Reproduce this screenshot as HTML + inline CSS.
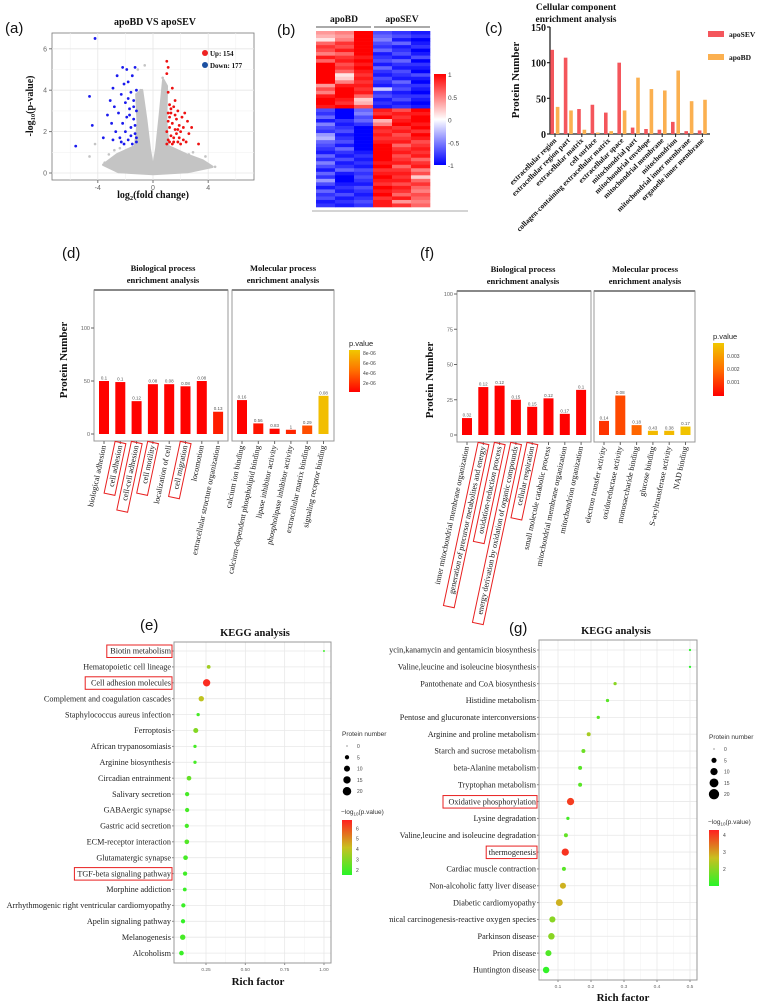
<!DOCTYPE html>
<html><head><meta charset="utf-8"><style>
html,body{margin:0;padding:0;background:#fff;}
svg{display:block;}
</style></head><body>
<svg id="fig" width="760" height="1003" viewBox="0 0 760 1003" xmlns="http://www.w3.org/2000/svg">
<rect x="0" y="0" width="760" height="1003" fill="#fff"/>
</svg>
<script>
// ---------- DATA ----------
// (a) volcano
const volcanoUp = [[1.0,5.4],[1.1,5.1],[1.0,4.8],[1.4,4.1],[1.1,3.9],[1.2,3.3],[1.5,3.2],[1.8,3.0],[2.1,2.7],[2.3,2.9],[1.3,2.9],[1.7,2.6],[1.1,2.5],[1.9,2.3],[1.2,2.2],[1.6,2.1],[2.0,2.0],[2.8,2.2],[2.6,1.9],[1.3,1.8],[1.5,1.7],[2.2,1.6],[1.1,1.6],[1.8,1.5],[2.4,1.5],[3.3,1.4],[1.4,1.4],[1.0,1.4],[2.0,1.4],[1.7,1.9],[1.2,2.7],[1.4,2.4],[1.9,1.7],[2.5,2.5],[1.0,2.0],[1.6,3.5],[1.3,3.1],[1.1,2.9],[1.6,2.8],[2.2,2.2],[1.5,1.5],[1.2,1.5],[1.8,2.1]];
const volcanoDown = [[-4.2,6.5],[-1.3,5.1],[-1.9,5.0],[-2.2,5.1],[-1.5,4.7],[-2.6,4.7],[-1.8,4.4],[-2.1,4.3],[-2.9,4.1],[-1.2,4.0],[-1.6,3.9],[-4.6,3.7],[-2.3,3.8],[-3.1,3.5],[-1.4,3.5],[-2.0,3.4],[-2.8,3.2],[-1.7,3.1],[-1.2,3.0],[-2.5,2.9],[-3.3,2.8],[-1.9,2.7],[-1.4,2.6],[-2.2,2.4],[-3.0,2.4],[-4.4,2.3],[-1.6,2.2],[-2.0,2.0],[-2.7,2.0],[-1.3,1.9],[-3.6,1.7],[-2.4,1.7],[-1.8,1.6],[-1.2,1.5],[-2.1,1.4],[-1.5,1.4],[-5.6,1.3],[-2.9,1.6],[-1.7,2.8],[-1.4,3.2],[-1.8,3.6],[-1.3,2.3],[-2.3,1.5],[-1.6,1.8],[-1.2,1.7]];
const volcanoGray = [[-0.6,5.2],[0.7,4.6],[0.8,4.2],[-0.9,4.0],[-1.1,5.0],[-4.6,0.8],[-4.2,1.4],[-3.2,0.9],[-2.8,1.1],[-3.5,0.5],[3.8,0.8],[4.5,0.3],[3.2,0.6],[2.9,1.0],[-2.4,1.2],[0.9,3.6],[-0.8,3.4],[2.6,0.9],[-3.0,0.6],[3.5,0.4]];
const grayCloud = [[-1.2,3.8],[-0.8,4.0],[-0.5,2.6],[-0.25,1.2],[0,0.2],[0.25,1.2],[0.5,2.8],[0.75,4.5],[1.0,4.2],[0.95,2.5],[1.1,1.3],[2.4,0.9],[3.6,0.6],[4.3,0.3],[2.5,0.05],[0,-0.05],[-2.5,0.05],[-3.6,0.4],[-2.6,0.9],[-1.3,1.3],[-1.1,2.4]];
const volcanoXTicks = [-4,0,4];
const volcanoYTicks = [0,2,4,6];
// (b) heatmap rows: apoBD1..3, apoSEV1..3
const heatRows = [
[0.4,0.5,1,-0.7,-0.8,-0.9],[0.3,0.4,1,-0.6,-0.7,-0.8],[0.1,0.5,1,-0.5,-0.9,-1],[0.6,0.8,1,-0.7,-0.6,-0.9],[0.8,0.7,1,-0.8,-0.9,-0.8],
[0.7,0.9,1,-0.6,-0.8,-1],[0.5,0.6,1,-0.9,-0.7,-0.9],[0.9,0.8,0.9,-0.8,-0.9,-0.7],[0.6,0.9,1,-0.7,-0.6,-1],[1,0.7,0.9,-0.9,-0.8,-0.8],
[1,0.8,1,-0.6,-0.9,-0.9],[1,0.6,0.9,-0.8,-0.7,-1],[1,0.1,0.8,-0.9,-0.8,-0.7],[1,0.2,0.9,-0.7,-0.9,-0.9],[1,0.5,0.8,-0.8,-0.6,-1],
[0.4,0.9,0.9,-0.9,-0.8,-0.8],[0.7,1,0.8,-0.2,-0.7,-0.9],[0.5,1,0.9,-0.8,-0.9,-1],[0.9,1,0.6,-0.7,-0.8,-0.8],[1,0.9,0.2,-0.9,-0.7,-0.9],
[1,0.8,0.3,-0.8,-0.9,-1],[0.9,1,0.7,-0.9,-0.8,-0.9],[-0.7,-1,-0.6,0.9,0.7,1],[-0.8,-1,-0.5,0.8,0.9,0.9],[-0.6,-1,-0.7,1,0.8,1],
[-0.9,-0.8,-0.6,0.3,0.9,1],[-0.5,-0.9,-0.8,0.5,1,0.9],[-0.7,-0.8,-1,0.9,0.8,1],[-0.8,-0.7,-1,0.8,0.9,0.8],[-0.4,-0.9,-1,0.9,0.7,1],
[-0.3,-0.8,-1,0.8,0.8,0.9],[-0.6,-0.7,-1,0.9,0.9,0.7],[-0.7,-0.9,-1,1,0.6,0.8],[-0.8,-0.6,-1,1,0.8,0.9],[-0.9,-0.8,-0.9,1,0.9,0.8],
[-0.6,-0.9,-0.8,1,0.7,0.9],[-0.8,-0.7,-0.9,1,0.8,0.6],[-0.5,-0.9,-0.8,0.9,0.9,0.8],[-0.7,-0.8,-0.9,1,0.6,0.9],[-0.9,-0.6,-0.7,0.8,0.8,0.5],
[-0.6,-0.9,-0.8,0.9,0.9,0.7],[-0.8,-1,-0.7,1,0.8,0.2],[-0.4,-1,-0.8,0.9,0.9,0.6],[-0.7,-0.9,-0.9,0.8,0.7,0.8],[-0.9,-0.8,-0.7,1,0.9,0.6],
[-0.6,-0.9,-0.8,0.9,0.8,0.5],[-0.8,-0.7,-0.9,1,0.6,0.7],[-0.7,-0.9,-0.8,0.8,0.9,0.6],[-0.9,-0.8,-0.7,0.9,0.4,0.5],[-0.8,-0.9,-0.8,0.9,0.8,0.6]];
const heatCols = ['apoBD','apoBD','apoBD','apoSEV','apoSEV','apoSEV'];
const heatLegendTicks = [1,0.5,0,-0.5,-1];
// (c) cellular component
const ccCategories = ['extracellular region','extracellular region part','extracellular matrix','cell surface','collagen-containing extracellular matrix','extracellular space','mitochondrial part','mitochondrial envelope','mitochondrial membrane','mitochondrion','mitochondrial inner membrane','organelle inner membrane'];
const ccSEV = [118,107,35,41,30,100,9,7,6,17,4,5];
const ccBD = [38,33,6,2,4,33,79,63,61,89,46,48];
const ccTicks = [0,50,100,150];
// (d)
const dBPCats = ['biological adhesion','cell adhesion','cell-cell adhesion','cell motility','localization of cell','cell migration','locomotion','extracellular structure organization'];
const dBPVals = [50,49,31,47,47,45,50,21];
const dBPLabels = ['0.1','0.1','0.12','0.08','0.08','0.08','0.08','0.13'];
const dBPP = [1e-7,1e-7,1e-7,1e-7,1e-7,1e-7,1e-7,1.2e-6];
const dBPBoxed = [false,true,true,true,false,true,false,false];
const dMFCats = ['calcium ion binding','calcium-dependent phospholipid binding','lipase inhibitor activity','phospholipase inhibitor activity','extracellular matrix binding','signaling receptor binding'];
const dMFVals = [32,10,5,4,8,36];
const dMFLabels = ['0.16','0.56','0.83','1','0.29','0.08'];
const dMFP = [1e-7,8e-7,3e-7,1.5e-6,3.2e-6,8.5e-6];
const dYTicks = [0,50,100];
const dLegendTicks = ['8e-06','6e-06','4e-06','2e-06'];
// (f)
const fBPCats = ['inner mitochondrial membrane organization','generation of precursor metabolites and energy','oxidation-reduction process','energy derivation by oxidation of organic compounds','cellular respiration','small molecule catabolic process','mitochondrial membrane organization','mitochondrion organization'];
const fBPVals = [12,34,35,25,20,26,15,32];
const fBPLabels = ['0.32','0.12','0.12','0.15','0.15','0.12','0.17','0.1'];
const fBPP = [1e-5,1e-5,1e-5,1e-5,1e-5,1e-5,1e-5,1e-5];
const fBPBoxed = [false,true,true,true,true,false,false,false];
const fMFCats = ['electron transfer activity','oxidoreductase activity','monosaccharide binding','glucose binding','S-acyltransferase activity','NAD binding'];
const fMFVals = [10,28,7,3,3,6];
const fMFLabels = ['0.14','0.08','0.18','0.43','0.38','0.17'];
const fMFP = [0.0009,0.0013,0.0018,0.0036,0.0036,0.0038];
const fYTicks = [0,25,50,75,100];
const fLegendTicks = ['0.003','0.002','0.001'];
// (e) KEGG
const eTerms = ['Biotin metabolism','Hematopoietic cell lineage','Cell adhesion molecules','Complement and  coagulation cascades','Staphylococcus aureus infection','Ferroptosis','African trypanosomiasis','Arginine biosynthesis','Circadian entrainment','Salivary secretion','GABAergic synapse','Gastric acid secretion','ECM-receptor interaction','Glutamatergic synapse','TGF-beta signaling pathway','Morphine addiction','Arrhythmogenic right ventricular cardiomyopathy','Apelin signaling pathway','Melanogenesis','Alcoholism'];
const eRich = [1.0,0.267,0.254,0.22,0.2,0.185,0.18,0.18,0.142,0.13,0.13,0.128,0.128,0.12,0.117,0.115,0.106,0.104,0.102,0.094];
const eCount = [1,4,15,8,3,7,3,3,6,5,5,5,6,6,5,4,5,5,8,6];
const eLogP = [1.8,3.5,6.6,4,2,3,2,2,2.5,2,2,2,2.2,2,1.9,1.8,1.8,1.7,2,1.8];
const eBoxed = [true,false,true,false,false,false,false,false,false,false,false,false,false,false,true,false,false,false,false,false];
const eXTicks = [0.25,0.5,0.75,1.0];
const eXTickLabels = ['0.25','0.50','0.75','1.00'];
const eColorTicks = [6,5,4,3,2];
// (g) KEGG
const gTerms = ['Neomycin,kanamycin and gentamicin biosynthesis','Valine,leucine and isoleucine biosynthesis','Pantothenate and CoA biosynthesis','Histidine metabolism','Pentose and glucuronate interconversions','Arginine and proline metabolism','Starch and sucrose metabolism','beta-Alanine metabolism','Tryptophan metabolism','Oxidative phosphorylation','Lysine degradation','Valine,leucine and isoleucine degradation','thermogenesis','Cardiac muscle contraction','Non-alcoholic fatty liver disease','Diabetic cardiomyopathy','Chemical carcinogenesis-reactive oxygen species','Parkinson disease','Prion disease','Huntington disease'];
const gRich = [0.5,0.5,0.273,0.25,0.222,0.193,0.177,0.167,0.167,0.138,0.13,0.124,0.122,0.118,0.115,0.104,0.083,0.08,0.071,0.064];
const gCount = [1,1,2,2,2,3,3,3,3,10,2,3,10,3,7,9,7,8,7,8];
const gLogP = [1,1,2,1.5,1.5,2.3,1.7,1.5,1.5,4,1.3,1.6,4.1,1.5,2.8,2.8,2,2,1.4,1.1];
const gBoxed = [false,false,false,false,false,false,false,false,false,true,false,false,true,false,false,false,false,false,false,false];
const gXTicks = [0.1,0.2,0.3,0.4,0.5];
const gColorTicks = [4,3,2];
const sizeLegend = [0,5,10,15,20];

// ---------- HELPERS ----------
const NS='http://www.w3.org/2000/svg';
const svg=document.getElementById('fig');
function mk(tag,attrs,parent){const e=document.createElementNS(NS,tag);for(const k in attrs)e.setAttribute(k,attrs[k]);(parent||svg).appendChild(e);return e;}
function txt(s,attrs,parent){const e=mk('text',attrs,parent);e.textContent=s;return e;}
function lerpC(stops,t){t=Math.max(0,Math.min(1,t));const n=stops.length-1;const i=Math.min(n-1,Math.floor(t*n));const f=t*n-i;const a=stops[i],b=stops[i+1];return 'rgb('+[0,1,2].map(k=>Math.round(a[k]+(b[k]-a[k])*f)).join(',')+')';}
const SERIF='"Liberation Serif",serif', SANS='"Liberation Sans",sans-serif';
function panelLabel(s,x,y){const t=txt(s,{x:x,y:y,'font-family':SANS,'font-size':15,fill:'#111'});

}

// ---------- (a) VOLCANO ----------
(function(){
 panelLabel('(a)',5,33);
 const L=52,R=254,T=33,B=180;
 const vx=v=>153+v*13.8, vy=v=>173-v*20.7;
 const g=mk('g',{});
 
 
 mk('rect',{x:L,y:T,width:R-L,height:B-T,fill:'#fff',stroke:'#777','stroke-width':0.8},g);
 [-6,-2,2,6].forEach(v=>mk('line',{x1:vx(v),x2:vx(v),y1:T,y2:B,stroke:'#f2f2f2','stroke-width':0.6},g));
 [1,3,5].forEach(v=>mk('line',{x1:L,x2:R,y1:vy(v),y2:vy(v),stroke:'#f2f2f2','stroke-width':0.6},g));
 volcanoXTicks.forEach(v=>{mk('line',{x1:vx(v),x2:vx(v),y1:T,y2:B,stroke:'#e6e6e6','stroke-width':0.8},g);
  mk('line',{x1:vx(v),x2:vx(v),y1:B,y2:B+3,stroke:'#777'},g);
  const t=txt(v,{x:vx(v),y:B+10,'text-anchor':'middle','font-family':SANS,'font-size':7,fill:'#666'},g);
  });
 volcanoYTicks.forEach(v=>{mk('line',{x1:L,x2:R,y1:vy(v),y2:vy(v),stroke:'#e6e6e6','stroke-width':0.8},g);
  mk('line',{x1:L-3,x2:L,y1:vy(v),y2:vy(v),stroke:'#777'},g);
  const t=txt(v,{x:L-5,y:vy(v)+2.5,'text-anchor':'end','font-family':SANS,'font-size':7,fill:'#666'},g);
  });
 const cloud=mk('path',{d:'M'+grayCloud.map(p=>vx(p[0]).toFixed(1)+','+vy(p[1]).toFixed(1)).join('L')+'Z',fill:'#c4c4c4',stroke:'#c4c4c4','stroke-width':2.5,'stroke-linejoin':'round'},g);
 
 volcanoGray.forEach(p=>{const c=mk('circle',{cx:vx(p[0]),cy:vy(p[1]),r:1.3,fill:'#c4c4c4'},g);
  });
 volcanoUp.forEach(p=>{const c=mk('circle',{cx:vx(p[0]),cy:vy(p[1]),r:1.4,fill:'#ee1111'},g);
  });
 volcanoDown.forEach(p=>{const c=mk('circle',{cx:vx(p[0]),cy:vy(p[1]),r:1.4,fill:'#1a1aee'},g);
  });
 const ti=txt('apoBD VS apoSEV',{x:155,y:25,'text-anchor':'middle','font-family':SERIF,'font-weight':'bold','font-size':10,fill:'#111'});
 
 mk('circle',{cx:205,cy:53,r:3,fill:'#e22'});mk('circle',{cx:205,cy:65,r:3,fill:'#1a4fa0'});
 const l1=txt('Up: 154',{x:210,y:56,'font-family':SERIF,'font-weight':'bold','font-size':7,fill:'#111'});
 
 const l2=txt('Down: 177',{x:210,y:68,'font-family':SERIF,'font-weight':'bold','font-size':7,fill:'#111'});
 
 const xt=mk('text',{x:153,y:198,'text-anchor':'middle','font-family':SERIF,'font-weight':'bold','font-size':10,fill:'#111'});
 xt.innerHTML='log<tspan font-size="6.5" dy="2">2</tspan><tspan dy="-2">(fold change)</tspan>';
 
 const yt=mk('text',{x:0,y:0,transform:'translate(33,106) rotate(-90)','text-anchor':'middle','font-family':SERIF,'font-weight':'bold','font-size':10,fill:'#111'});
 yt.innerHTML='-log<tspan font-size="6.5" dy="2">10</tspan><tspan dy="-2">(p-value)</tspan>';
 
})();

// ---------- (b) HEATMAP ----------
(function(){
 panelLabel('(b)',277,35);
 const L=316,R=430,T=31,B=207;
 const cw=(R-L)/heatCols.length, rh=(B-T)/heatRows.length;
 const stops=[[0,0,255],[255,255,255],[255,0,0]];
 const col=v=>lerpC(stops,(v+1)/2);
 const g=mk('g',{});
 
 heatRows.forEach((row,i)=>row.forEach((v,j)=>{const r=mk('rect',{x:L+j*cw,y:T+i*rh,width:cw+0.3,height:rh+0.3,fill:col(v)},g);
  }));
 const a=txt('apoBD',{x:344,y:22,'text-anchor':'middle','font-family':SERIF,'font-weight':'bold','font-size':9.5,fill:'#111'});
 
 const b=txt('apoSEV',{x:402,y:22,'text-anchor':'middle','font-family':SERIF,'font-weight':'bold','font-size':9.5,fill:'#111'});
 
 mk('line',{x1:316,x2:371,y1:27,y2:27,stroke:'#777','stroke-width':1.2});
 mk('line',{x1:374,x2:430,y1:27,y2:27,stroke:'#777','stroke-width':1.2});
 mk('line',{x1:312,x2:468,y1:211,y2:211,stroke:'#bbb','stroke-width':1.2});
 const defs=mk('defs',{});const lg=mk('linearGradient',{id:'hmg',x1:0,y1:0,x2:0,y2:1},defs);
 [['0%','#ff0000'],['50%','#ffffff'],['100%','#0000ff']].forEach(s=>mk('stop',{offset:s[0],'stop-color':s[1]},lg));
 const cb=mk('rect',{x:434,y:74,width:12,height:91,fill:'url(#hmg)'});
 
 heatLegendTicks.forEach(v=>{const y=74+(1-v)/2*91;
  const t=txt(v,{x:448,y:y+3,'font-family':SANS,'font-size':6.5,fill:'#444'});
  });
})();

// ---------- (c) CELLULAR COMPONENT ----------
(function(){
 panelLabel('(c)',485,33);
 const ax=550,y0=134,x0=555,step=13.4;
 const vy=v=>y0-v*107/150;
 const t1=txt('Cellular component',{x:576,y:10,'text-anchor':'middle','font-family':SERIF,'font-weight':'bold','font-size':9.5,fill:'#111'});
 
 txt('enrichment analysis',{x:576,y:22,'text-anchor':'middle','font-family':SERIF,'font-weight':'bold','font-size':9.5,fill:'#111'});
 mk('line',{x1:ax,x2:ax,y1:vy(150),y2:y0,stroke:'#222','stroke-width':1.3});
 mk('line',{x1:ax,x2:710,y1:y0,y2:y0,stroke:'#222','stroke-width':1.3});
 ccTicks.forEach(v=>{mk('line',{x1:ax-3,x2:ax,y1:vy(v),y2:vy(v),stroke:'#222','stroke-width':1.2});
  const t=txt(v,{x:ax-4,y:vy(v)+4,'text-anchor':'end','font-family':SERIF,'font-weight':'bold','font-size':10,fill:'#111'});
  });
 const yt=txt('Protein Number',{x:0,y:0,transform:'translate(519,80) rotate(-90)','text-anchor':'middle','font-family':SERIF,'font-weight':'bold','font-size':11,fill:'#111'});
 
 ccCategories.forEach((c,i)=>{const cx=x0+i*step;
  mk('line',{x1:cx,x2:cx,y1:y0,y2:y0+3,stroke:'#222'});
  const r=mk('rect',{x:cx-4.6,y:vy(ccSEV[i]),width:3.6,height:y0-vy(ccSEV[i]),fill:'#f4565c'});
  
  const o=mk('rect',{x:cx+0.8,y:vy(ccBD[i]),width:3.6,height:y0-vy(ccBD[i]),fill:'#fbb050'});
  
  const t=txt(c,{x:0,y:0,transform:'translate('+(cx+2)+','+(y0+7)+') rotate(-45)','text-anchor':'end','font-family':SERIF,'font-weight':'bold','font-size':7.5,fill:'#111'});
  });
 mk('rect',{x:708,y:31,width:16,height:6,fill:'#f4565c'});
 mk('rect',{x:708,y:54,width:16,height:6,fill:'#fbb050'});
 const a=txt('apoSEV',{x:729,y:37,'font-family':SERIF,'font-weight':'bold','font-size':7.5,fill:'#111'});
 
 const b=txt('apoBD',{x:729,y:60,'font-family':SERIF,'font-weight':'bold','font-size':7.5,fill:'#111'});
 
})();

// ---------- GO bar panels (d) & (f) ----------
const pStops=[[255,0,0],[255,110,0],[240,200,0]];
function goPanel(cfg){
 panelLabel(cfg.label,cfg.lx,cfg.ly);
 const vy=v=>cfg.y0-v*cfg.unit;
 const g=mk('g',{});
 
 [[cfg.bpBox,'Biological process',cfg.bpTitleX],[cfg.mfBox,'Molecular process',cfg.mfTitleX]].forEach(p=>{
  mk('rect',{x:p[0][0],y:cfg.top,width:p[0][1]-p[0][0],height:cfg.bot-cfg.top,fill:'#fff',stroke:'#999','stroke-width':1},g);
  mk('line',{x1:p[0][0],x2:p[0][1],y1:cfg.top,y2:cfg.top,stroke:'#888','stroke-width':2},g);
  const t=txt(p[1],{x:p[2],y:cfg.top-19,'text-anchor':'middle','font-family':SERIF,'font-weight':'bold','font-size':8.5,fill:'#111'},g);
  
  txt('enrichment analysis',{x:p[2],y:cfg.top-7,'text-anchor':'middle','font-family':SERIF,'font-weight':'bold','font-size':8.5,fill:'#111'},g);});
 cfg.yTicks.forEach(v=>{mk('line',{x1:cfg.bpBox[0]-3,x2:cfg.bpBox[0],y1:vy(v),y2:vy(v),stroke:'#666'},g);
  const t=txt(v,{x:cfg.bpBox[0]-4,y:vy(v)+2,'text-anchor':'end','font-family':SANS,'font-size':5.5,fill:'#666'},g);
  });
 const yt=txt('Protein Number',{x:0,y:0,transform:'translate('+cfg.ytx+','+cfg.yty+') rotate(-90)','text-anchor':'middle','font-family':SERIF,'font-weight':'bold','font-size':11,fill:'#111'},g);
 
 function bars(cats,vals,labels,ps,boxed,x0,step,pmax){
  cats.forEach((c,i)=>{const cx=x0+i*step;
   const r=mk('rect',{x:cx-5,y:vy(vals[i]),width:10,height:cfg.y0-vy(vals[i]),fill:lerpC(pStops,ps[i]/pmax)},g);
   
   const t=txt(labels[i],{x:cx,y:vy(vals[i])-1.5,'text-anchor':'middle','font-family':SANS,'font-size':4.5,fill:'#555'},g);
   
   mk('line',{x1:cx,x2:cx,y1:cfg.bot,y2:cfg.bot+3,stroke:'#666'},g);
   const gr=mk('g',{transform:'translate('+(cx+2)+','+(cfg.bot+5)+') rotate(-78)'},g);
   const lt=txt(c,{x:0,y:0,'text-anchor':'end','font-family':SERIF,'font-size':8,fill:'#111'},gr);
   
   if(boxed&&boxed[i]){const w=c.length*3.45+5;
    const bx=mk('rect',{x:-w,y:-8,width:w+3,height:11,fill:'none',stroke:'#e82020','stroke-width':1},gr);
    }
  });}
 bars(cfg.bpCats,cfg.bpVals,cfg.bpLabels,cfg.bpP,cfg.bpBoxed,cfg.bpX0,cfg.step,cfg.pmax);
 bars(cfg.mfCats,cfg.mfVals,cfg.mfLabels,cfg.mfP,null,cfg.mfX0,cfg.step,cfg.pmax);
 const defs=mk('defs',{});const lg=mk('linearGradient',{id:cfg.label.replace(/[()]/g,'')+'grad',x1:0,y1:1,x2:0,y2:0},defs);
 pStops.forEach((s,i)=>mk('stop',{offset:(i/2*100)+'%','stop-color':'rgb('+s.join(',')+')'},lg));
 const lt=txt('p.value',{x:cfg.legX,y:cfg.legY-4,'font-family':SANS,'font-size':7.5,fill:'#222'});
 
 const cb=mk('rect',{x:cfg.legX,y:cfg.legY,width:11,height:cfg.legH,fill:'url(#'+cfg.label.replace(/[()]/g,'')+'grad)'});
 
 cfg.legTicks.forEach((s,i)=>{const t=txt(s,{x:cfg.legX+14,y:cfg.legY+cfg.legT0+i*cfg.legTS+2,'font-family':SANS,'font-size':5,fill:'#444'});
  });
}
goPanel({label:'(d)',lx:62,ly:258,name:'go-panel-d',top:290,bot:441,y0:434,unit:1.06,
 bpBox:[94,228],mfBox:[232,334],bpTitleX:163,mfTitleX:283,yTicks:dYTicks,ytx:67,yty:360,
 bpCats:dBPCats,bpVals:dBPVals,bpLabels:dBPLabels,bpP:dBPP,bpBoxed:dBPBoxed,
 mfCats:dMFCats,mfVals:dMFVals,mfLabels:dMFLabels,mfP:dMFP,
 bpX0:104,mfX0:242,step:16.3,pmax:9e-6,legX:349,legY:350,legH:42,legTS:10,legT0:3,legTicks:dLegendTicks});
goPanel({label:'(f)',lx:420,ly:258,name:'go-panel-f',top:291,bot:442,y0:435,unit:1.41,
 bpBox:[457,591],mfBox:[594,695],bpTitleX:523,mfTitleX:645,yTicks:fYTicks,ytx:433,yty:380,
 bpCats:fBPCats,bpVals:fBPVals,bpLabels:fBPLabels,bpP:fBPP,bpBoxed:fBPBoxed,
 mfCats:fMFCats,mfVals:fMFVals,mfLabels:fMFLabels,mfP:fMFP,
 bpX0:467,mfX0:604,step:16.3,pmax:0.0039,legX:713,legY:343,legH:53,legTS:13,legT0:13,legTicks:fLegendTicks});

// ---------- KEGG panels (e) & (g) ----------
const kStops=[[40,245,40],[200,192,32],[255,32,32]];
function kegg(cfg){
 panelLabel(cfg.label,cfg.lx,cfg.ly);
 const vx=v=>cfg.xa+(v-cfg.va)*cfg.xu, vy=i=>cfg.r0+i*cfg.rs;
 const g=mk('g',{});
 
 const ti=txt('KEGG analysis',{x:cfg.titleX,y:cfg.top-6,'text-anchor':'middle','font-family':SERIF,'font-weight':'bold','font-size':10.5,fill:'#111'},g);
 
 mk('rect',{x:cfg.L,y:cfg.top,width:cfg.R-cfg.L,height:cfg.bot-cfg.top,fill:'#fff'},g);
 cfg.minor.forEach(v=>mk('line',{x1:vx(v),x2:vx(v),y1:cfg.top,y2:cfg.bot,stroke:'#f3f3f3','stroke-width':0.6},g));
 cfg.ticks.forEach((v,i)=>{mk('line',{x1:vx(v),x2:vx(v),y1:cfg.top,y2:cfg.bot,stroke:'#e8e8e8','stroke-width':0.8},g);
  mk('line',{x1:vx(v),x2:vx(v),y1:cfg.bot,y2:cfg.bot+2,stroke:'#888'},g);
  const t=txt(cfg.tickLabels[i],{x:vx(v),y:cfg.bot+8,'text-anchor':'middle','font-family':SANS,'font-size':4.8,fill:'#666'},g);
  });
 const cp=mk('clipPath',{id:cfg.name+'clip'},mk('defs',{}));mk('rect',{x:cfg.clipX,y:0,width:760,height:1003},cp);
 cfg.terms.forEach((s,i)=>{mk('line',{x1:cfg.L,x2:cfg.R,y1:vy(i),y2:vy(i),stroke:'#e8e8e8','stroke-width':0.8},g);
  mk('line',{x1:cfg.L-2,x2:cfg.L,y1:vy(i),y2:vy(i),stroke:'#888'},g);
  const t=txt(s,{x:cfg.L-3,y:vy(i)+2.7,'text-anchor':'end','font-family':SERIF,'font-size':8.2,fill:'#222','clip-path':'url(#'+cfg.name+'clip)'},g);
  
  if(cfg.boxed[i]){const w=s.length*3.6+4;
   const b=mk('rect',{x:cfg.L-2-w,y:vy(i)-6,width:w,height:12.5,fill:'none',stroke:'#e82020','stroke-width':1},g);
   }});
 mk('rect',{x:cfg.L,y:cfg.top,width:cfg.R-cfg.L,height:cfg.bot-cfg.top,fill:'none',stroke:'#999','stroke-width':1},g);
 cfg.terms.forEach((s,i)=>{const c=mk('circle',{cx:vx(cfg.rich[i]),cy:vy(i),r:Math.max(0.8,Math.sqrt(cfg.count[i])*cfg.rk),fill:lerpC(kStops,(cfg.logp[i]-cfg.pmin)/(cfg.pmax-cfg.pmin))},g);
  });
 const xt=txt('Rich factor',{x:cfg.xtX,y:cfg.xtY,'text-anchor':'middle','font-family':SERIF,'font-weight':'bold','font-size':11,fill:'#111'});
 
 const st=txt('Protein number',{x:cfg.legX,y:cfg.legY,'font-family':SANS,'font-size':6.5,fill:'#333'});
 
 sizeLegend.forEach((n,i)=>{const y=cfg.legY+10+i*11.3;
  const c=mk('circle',{cx:cfg.legX+5,cy:y,r:n===0?0.5:Math.sqrt(n)*cfg.rk,fill:'#000'});
  
  const t=txt(n,{x:cfg.legX+15,y:y+2,'font-family':SANS,'font-size':5,fill:'#444'});
  });
 const ct=mk('text',{x:cfg.legX-1,y:cfg.cbY-6,'font-family':SANS,'font-size':6.5,fill:'#333'});
 ct.innerHTML='\u2212log<tspan font-size="4.5" dy="1.5">10</tspan><tspan dy="-1.5">(p.value)</tspan>';
 
 const lg=mk('linearGradient',{id:cfg.name+'grad',x1:0,y1:1,x2:0,y2:0},mk('defs',{}));
 kStops.forEach((s,i)=>mk('stop',{offset:(i*50)+'%','stop-color':'rgb('+s.join(',')+')'},lg));
 const cb=mk('rect',{x:cfg.legX,y:cfg.cbY,width:10,height:cfg.cbH,fill:'url(#'+cfg.name+'grad)'});
 
 cfg.cticks.forEach(v=>{const y=cfg.cbY+cfg.cbH*(1-(v-cfg.pmin)/(cfg.pmax-cfg.pmin));
  const t=txt(v,{x:cfg.legX+14,y:y+2,'font-family':SANS,'font-size':5,fill:'#444'});
  });
}
kegg({label:'(e)',lx:140,ly:630,name:'kegg-e',titleX:255,top:642,bot:963,L:174,R:331,
 xa:206,va:0.25,xu:157.3,ticks:eXTicks,tickLabels:eXTickLabels,minor:[0.125,0.375,0.625,0.875],
 r0:651,rs:15.9,terms:eTerms,rich:eRich,count:eCount,logp:eLogP,boxed:eBoxed,pmin:1.5,pmax:6.8,rk:0.95,
 clipX:0,xtX:258,xtY:985,legX:342,legY:736,cbY:820,cbH:55,cticks:eColorTicks});
kegg({label:'(g)',lx:509,ly:633,name:'kegg-g',titleX:616,top:640,bot:980,L:539,R:697,
 xa:558,va:0.1,xu:330,ticks:gXTicks,tickLabels:gXTicks.map(String),minor:[0.05,0.15,0.25,0.35,0.45],
 r0:650,rs:16.84,terms:gTerms,rich:gRich,count:gCount,logp:gLogP,boxed:gBoxed,pmin:1,pmax:4.3,rk:1.15,
 clipX:389,xtX:623,xtY:1001,legX:709,legY:739,cbY:830,cbH:56,cticks:gColorTicks});
</script>
</body></html>
